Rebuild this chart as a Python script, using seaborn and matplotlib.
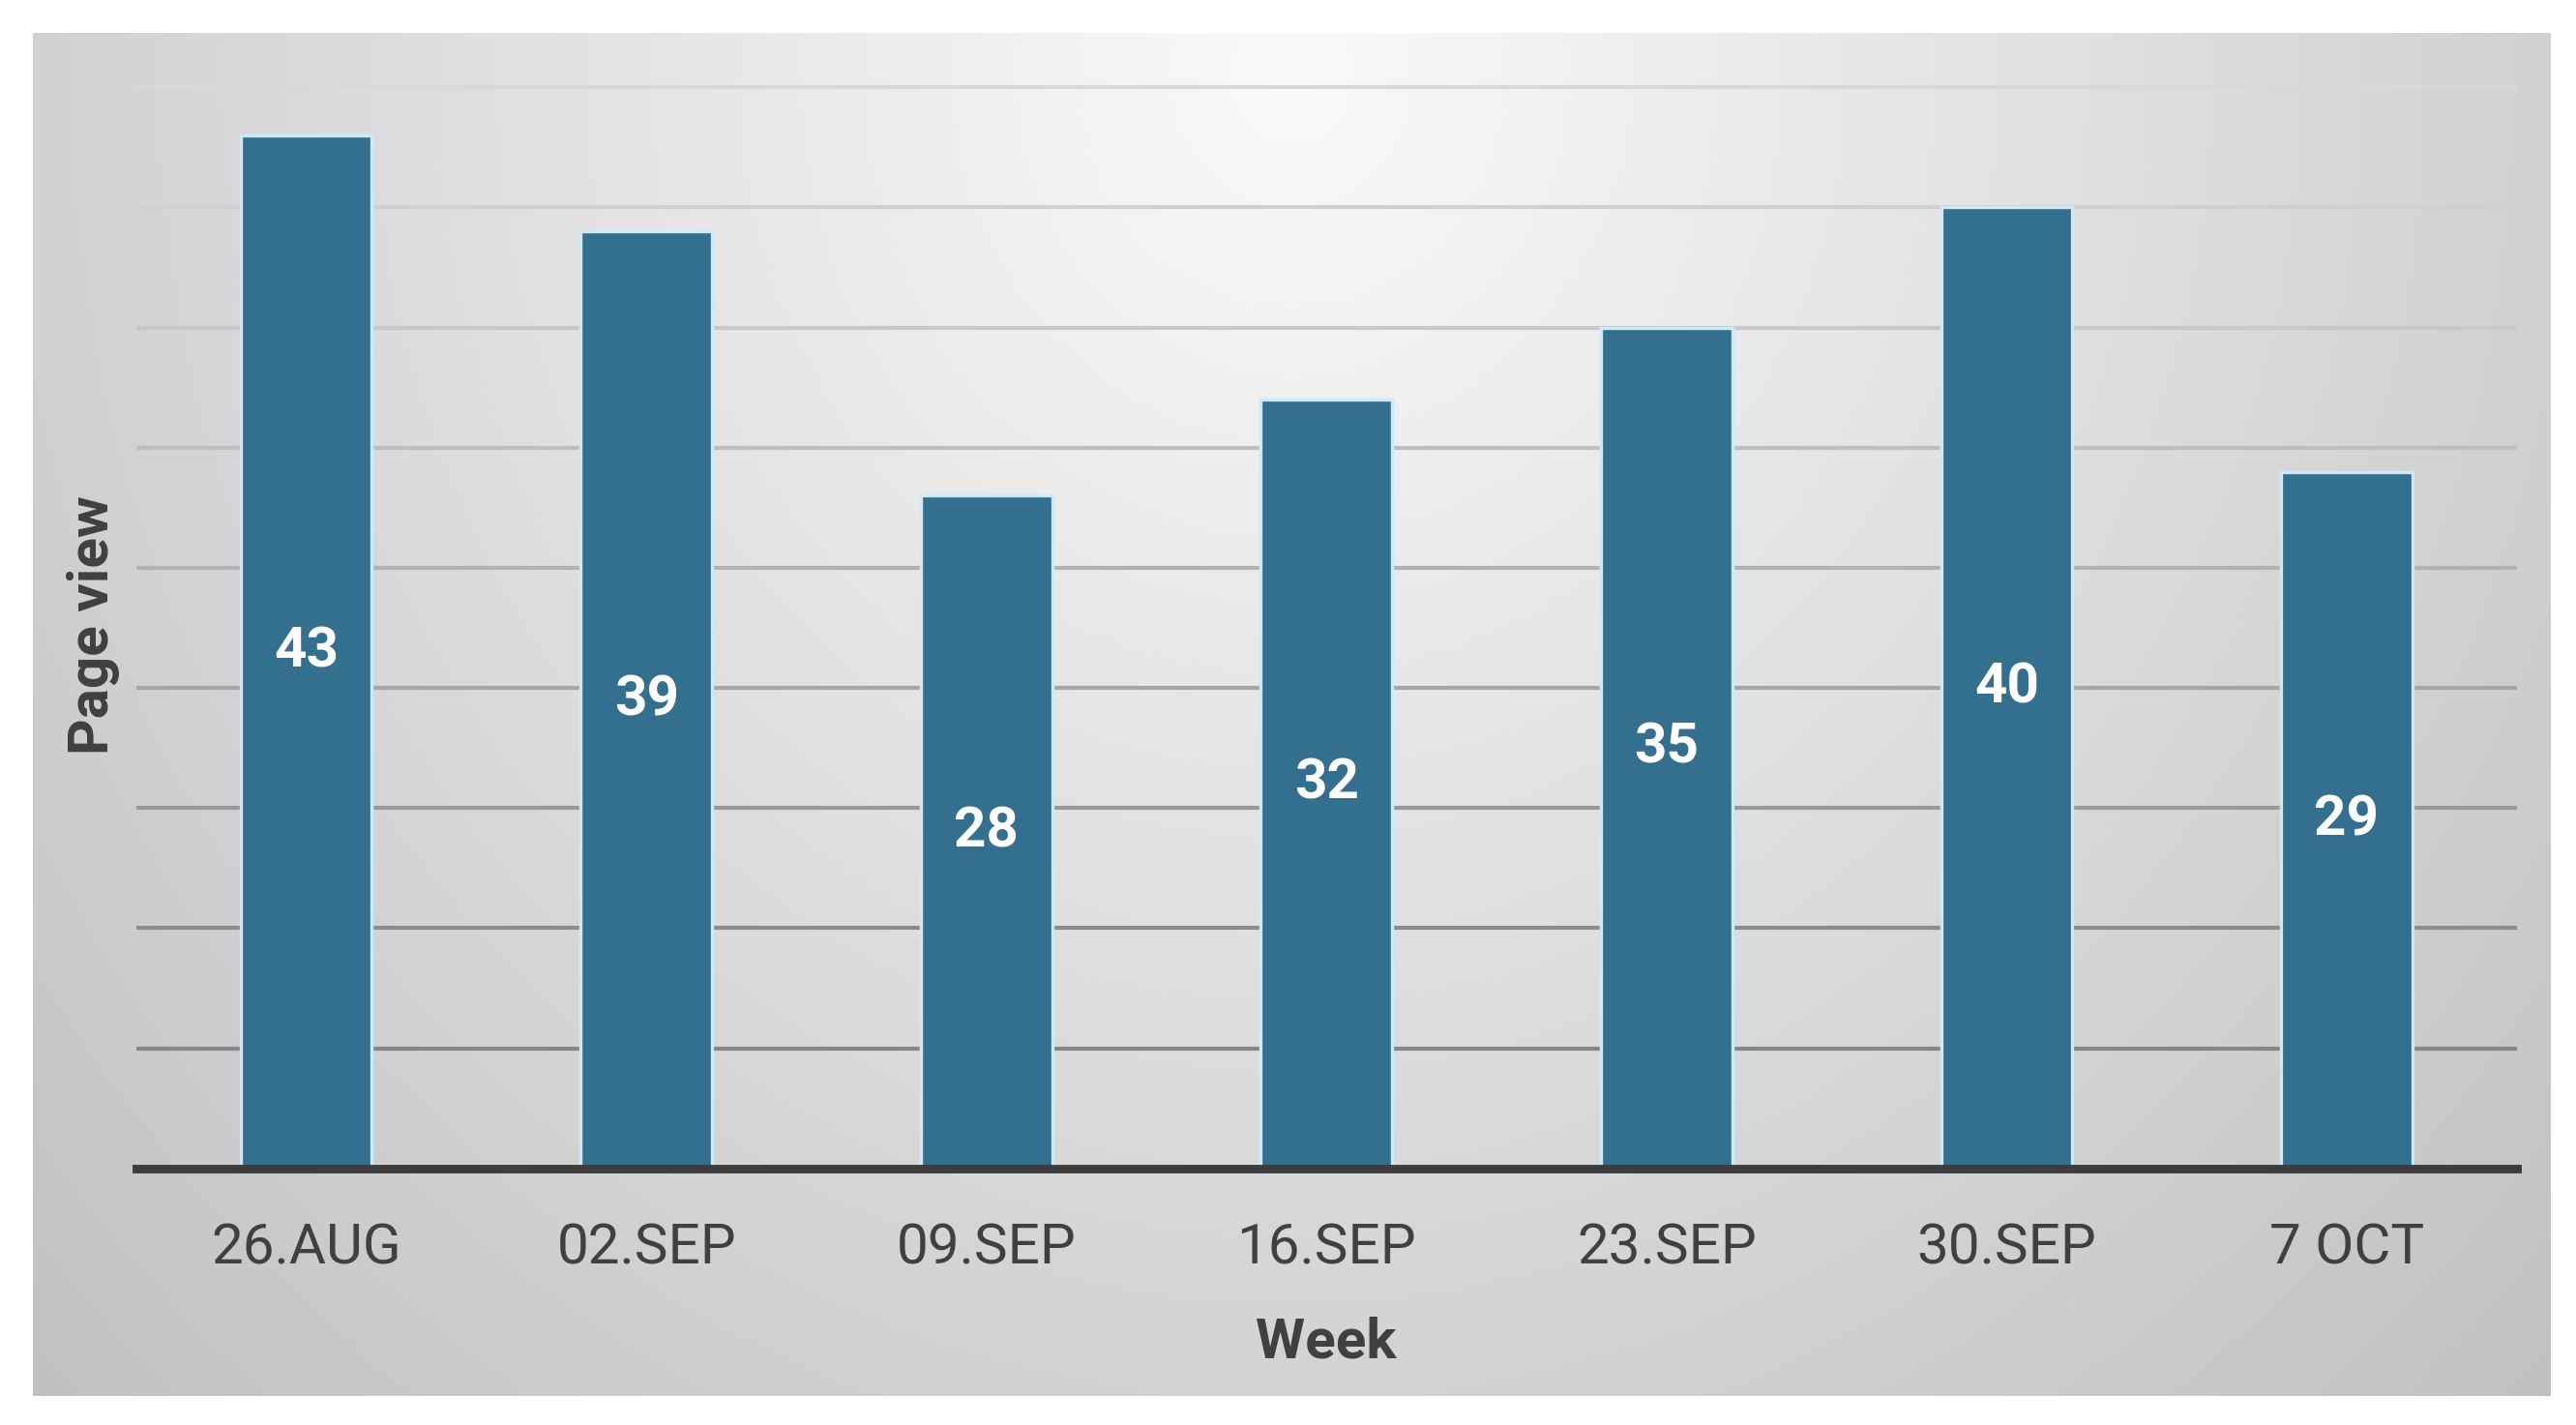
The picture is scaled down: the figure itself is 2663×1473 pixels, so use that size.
import numpy as np
import pandas as pd
import seaborn as sns
import matplotlib.pyplot as plt

# chart data
weeks = ["26.AUG", "02.SEP", "09.SEP", "16.SEP", "23.SEP", "30.SEP", "7 OCT"]
page_views = [43, 39, 28, 32, 35, 40, 29]
grid_levels = [5, 10, 15, 20, 25, 30, 35, 40, 45]

df = pd.DataFrame({"week": weeks, "views": page_views})

sns.set_theme(style="white")
plt.rcParams["font.family"] = ["Roboto", "DejaVu Sans"]

text_color = "#404040"
bar_color = "#33708f"

fig = plt.figure(figsize=(13.315, 7.365), dpi=200)
fig.patch.set_facecolor("white")

# radial grey gradient panel behind the chart
bg = fig.add_axes([0.0128, 0.0204, 0.9771, 0.9565], zorder=0)
gx, gy = np.meshgrid(np.linspace(0, 1, 600), np.linspace(1, 0, 330))
dist = np.sqrt(((gx - 0.5) / 0.5) ** 2 + ((gy - 0.97) / 1.0) ** 2) / np.sqrt(2)
shade = np.clip(250 - 58 * dist, 0, 255) / 255.0
bg.imshow(np.dstack([shade, shade, shade]), aspect="auto", extent=[0, 1, 0, 1])
bg.set_axis_off()

ax = fig.add_axes([0.0529, 0.18, 0.9241, 0.763], zorder=1)
ax.set_facecolor("none")

sns.barplot(data=df, x="week", y="views", color=bar_color, saturation=1,
            width=0.386, edgecolor="#cfeaf7", linewidth=1.2, ax=ax, zorder=3)

# value labels in the middle of each bar
for i, v in enumerate(page_views):
    ax.text(i, v / 2, str(v), ha="center", va="center", color="white",
            fontsize=21, fontweight="bold", zorder=4)

ax.set_ylim(0, 45.25)
ax.set_xlim(-0.5, len(weeks) - 0.5)
ax.set_yticks(grid_levels)
ax.set_yticklabels([])

# gridlines fade from dark at the bottom to light at the top
grid_colors = ["#868686", "#8c8c8c", "#999999", "#a6a6a6", "#b2b2b2",
               "#bebebe", "#c8c8c8", "#d0d0d0", "#d8d8d8"]
for lvl, c in zip(grid_levels, grid_colors):
    ax.axhline(lvl, color=c, lw=1.5, zorder=1)

for side in ["left", "right", "top"]:
    ax.spines[side].set_visible(False)
ax.spines["bottom"].set_color("#3d3d3d")
ax.spines["bottom"].set_linewidth(3.2)
ax.spines["bottom"].set_zorder(5)

ax.tick_params(axis="x", length=0, pad=20, labelsize=21, labelcolor=text_color)
ax.tick_params(axis="y", length=0, pad=0)

ax.set_xlabel("Week", fontsize=21, fontweight="bold", color=text_color, labelpad=15)
ax.set_ylabel("Page view", fontsize=21, fontweight="bold", color=text_color, labelpad=6)

plt.savefig("out.png", dpi=200, facecolor="white")
